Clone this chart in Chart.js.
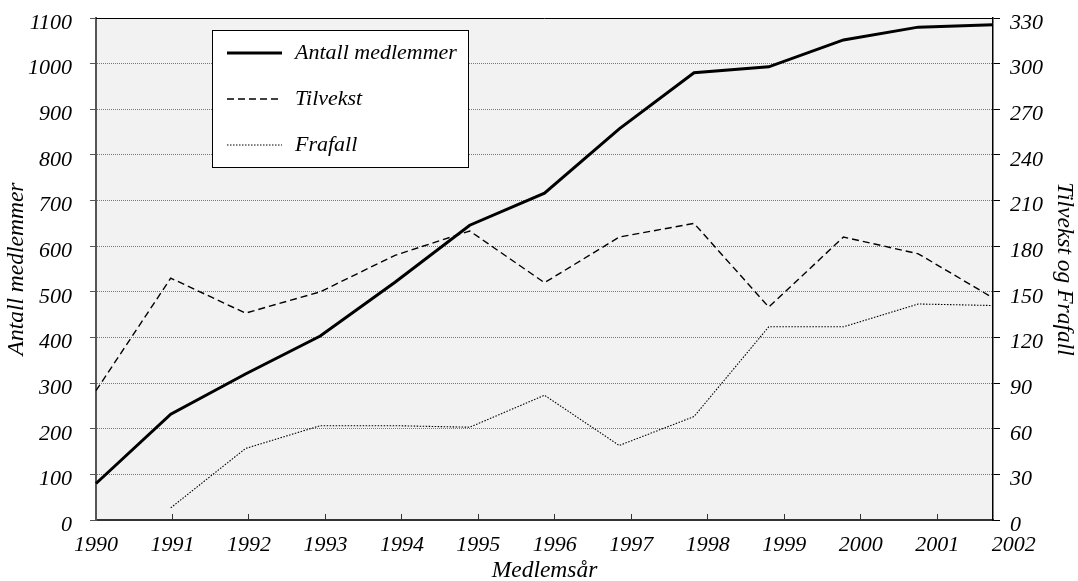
<!DOCTYPE html>
<html lang="no">
<head>
<meta charset="utf-8">
<title>Medlemsutvikling 1990–2002</title>
<script src="https://cdn.jsdelivr.net/npm/chart.js@4.4.1/dist/chart.umd.min.js"></script>
<style>
    html, body { margin: 0; padding: 0; background: #fff; }
    #wrap { width: 1078px; height: 581px; position: relative; }
</style>
</head>
<body>
<div id="wrap"><canvas id="medlemChart"></canvas></div>
<script>
// Data
const years = [1990, 1991, 1992, 1993, 1994, 1995, 1996, 1997, 1998, 1999, 2000, 2001, 2002];
const antallMedlemmer = [80, 232, 320, 403, 521, 646, 716, 857, 980, 993, 1052, 1080, 1085];
const tilvekst = [85, 159, 136, 150, 174, 190, 156, 186, 195, 140, 186, 175, 146];
const frafall = [null, 8, 47, 62, 62, 61, 82, 49, 68, 127, 127, 142, 141];

// Axis ticks
const leftTicks = [0, 100, 200, 300, 400, 500, 600, 700, 800, 900, 1000, 1100];
const rightTicks = [0, 30, 60, 90, 120, 150, 180, 210, 240, 270, 300, 330];

const FONT = '"Liberation Serif", "Times New Roman", serif';
const italic22 = { family: FONT, size: 22, style: 'italic', lineHeight: 1.2 };
const titleFont = { family: FONT, size: 23.5, style: 'italic', lineHeight: 1.2 };
Chart.defaults.font.family = FONT;
Chart.defaults.color = '#000';

// Grey plot area + black top frame line
const plotFrame = {
    id: 'plotFrame',
    beforeDraw(chart) {
        const { ctx, chartArea: a } = chart;
        ctx.save();
        ctx.fillStyle = '#f2f2f2';
        ctx.fillRect(a.left, a.top, a.right - a.left, a.bottom - a.top);
        ctx.restore();
    },
    afterDatasetsDraw(chart) {
        const { ctx, chartArea: a } = chart;
        ctx.save();
        ctx.strokeStyle = '#000';
        ctx.lineWidth = 1;
        ctx.beginPath();
        ctx.moveTo(a.left, a.top + 0.5);
        ctx.lineTo(a.right, a.top + 0.5);
        ctx.stroke();
        ctx.restore();
    }
};

// Legend box inside the plot, like the original
const boxLegend = {
    id: 'boxLegend',
    afterDraw(chart) {
        const { ctx, chartArea } = chart;
        const x = chartArea.left + 116;
        const y = chartArea.top + 12;
        ctx.save();
        ctx.fillStyle = '#fff';
        ctx.fillRect(x, y, 256, 137);
        ctx.strokeStyle = '#000';
        ctx.lineWidth = 1;
        ctx.strokeRect(x + 0.5, y + 0.5, 256, 137);
        chart.data.datasets.forEach((ds, i) => {
            const ly = y + 23 + i * 46;
            ctx.beginPath();
            ctx.lineWidth = ds.borderWidth;
            ctx.strokeStyle = ds.borderColor;
            ctx.setLineDash(ds.borderDash || []);
            ctx.moveTo(x + 15, ly);
            ctx.lineTo(x + 70, ly);
            ctx.stroke();
            ctx.setLineDash([]);
            ctx.fillStyle = '#000';
            ctx.font = 'italic 22px ' + FONT;
            ctx.textBaseline = 'middle';
            ctx.fillText(ds.label, x + 83, ly);
        });
        ctx.restore();
    }
};

const fixY = w => axis => {
    axis.width = w;
    axis.paddingTop = 0;
    axis.paddingBottom = 0;
};

const ctx = document.getElementById('medlemChart').getContext('2d');
new Chart(ctx, {
    type: 'line',
    data: {
        labels: years,
        datasets: [
            {
                label: 'Antall medlemmer',
                data: antallMedlemmer,
                yAxisID: 'y',
                borderColor: '#000',
                borderWidth: 3,
                pointRadius: 0,
                tension: 0
            },
            {
                label: 'Tilvekst',
                data: tilvekst,
                yAxisID: 'y2',
                borderColor: '#000',
                borderWidth: 1.4,
                borderDash: [7, 4],
                pointRadius: 0,
                tension: 0
            },
            {
                label: 'Frafall',
                data: frafall,
                yAxisID: 'y2',
                borderColor: '#000',
                borderWidth: 1.1,
                borderDash: [1.5, 1.5],
                pointRadius: 0,
                tension: 0
            }
        ]
    },
    options: {
        responsive: true,
        maintainAspectRatio: false,
        animation: false,
        layout: { padding: { top: 18, right: 0, bottom: 0, left: 0 } },
        plugins: {
            legend: { display: false },
            tooltip: { enabled: false }
        },
        scales: {
            // points sit on this one (hidden)
            x: {
                type: 'category',
                display: false,
                offset: false
            },
            // visible year axis; its ticks run a little wider than the points in the original
            xYears: {
                type: 'linear',
                position: 'bottom',
                min: years[0],
                max: 2001.73,
                afterBuildTicks: axis => { axis.ticks = years.map(v => ({ value: v })); },
                afterFit: axis => { axis.height = 61; },
                ticks: {
                    autoSkip: false,
                    maxRotation: 0,
                    padding: 18,
                    font: italic22,
                    callback: v => String(v)
                },
                grid: {
                    drawOnChartArea: false,
                    tickLength: -6,
                    tickWidth: 1,
                    tickColor: c => (c.tick && c.tick.value > 2001.5) ? 'rgba(0,0,0,0)' : '#333'
                },
                border: { color: '#333', width: 2 },
                title: {
                    display: true,
                    text: 'Medlemsår',
                    font: titleFont,
                    padding: { top: 0, bottom: -4 }
                }
            },
            y: {
                position: 'left',
                min: leftTicks[0],
                max: leftTicks[leftTicks.length - 1],
                afterFit: fixY(96),
                ticks: {
                    stepSize: leftTicks[1] - leftTicks[0],
                    padding: 18,
                    labelOffset: 5,
                    font: italic22,
                    callback: v => String(v)
                },
                grid: {
                    color: '#777',
                    lineWidth: 1,
                    tickLength: 6,
                    tickColor: '#555'
                },
                border: { color: '#555', width: 2, dash: [1, 1] },
                title: {
                    display: true,
                    text: 'Antall medlemmer',
                    font: titleFont,
                    padding: { top: 3, bottom: 0 }
                }
            },
            y2: {
                position: 'right',
                min: rightTicks[0],
                max: rightTicks[rightTicks.length - 1],
                afterFit: fixY(85),
                ticks: {
                    stepSize: rightTicks[1] - rightTicks[0],
                    padding: 10,
                    labelOffset: 5,
                    font: italic22,
                    callback: v => String(v)
                },
                grid: {
                    drawOnChartArea: false,
                    tickLength: 7,
                    tickColor: '#000'
                },
                border: { color: '#000', width: 1.5 },
                title: {
                    display: true,
                    text: 'Tilvekst og Frafall',
                    font: titleFont,
                    padding: { top: 0, bottom: 0 }
                }
            }
        }
    },
    plugins: [plotFrame, boxLegend]
});
</script>
</body>
</html>
